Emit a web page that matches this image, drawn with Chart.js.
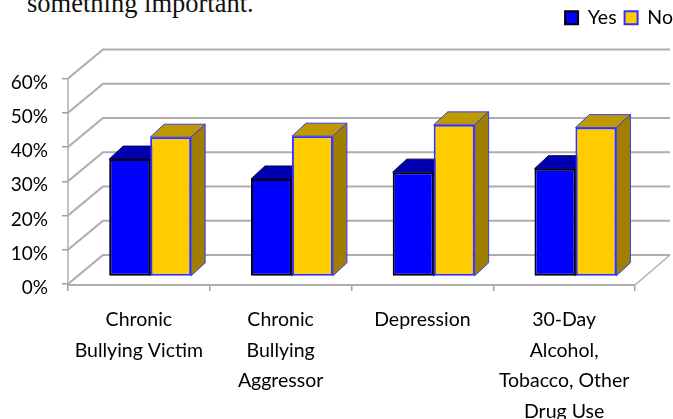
<!DOCTYPE html>
<html>
<head>
<meta charset="utf-8">
<title>Chart</title>
<script src="https://cdn.jsdelivr.net/npm/chart.js@4"></script>
<style>
  html, body { margin: 0; padding: 0; background: #fff; overflow: hidden; }
  #wrap { position: relative; width: 673px; height: 419px; overflow: hidden; }
  #caption {
    position: absolute; left: 27px; top: -12px; white-space: nowrap;
    font: 26.5px "Liberation Serif", serif; color: #111;
  }
  canvas { position: absolute; left: 0; top: 0; }
</style>
</head>
<body>
<div id="wrap">
  <div id="caption">something important.</div>
  <canvas id="chart" width="673" height="419"></canvas>
</div>
<script>
// Data
const categories = [
  ['Chronic', 'Bullying Victim'],
  ['Chronic', 'Bullying', 'Aggressor'],
  ['Depression'],
  ['30-Day', 'Alcohol,', 'Tobacco, Other', 'Drug Use']
];
const yesValues = [34.3, 28.5, 30.5, 31.5];
const noValues = [40.7, 41, 44.3, 43.5];
const yTicks = [0, 10, 20, 30, 40, 50, 60];

// Depth of the box and of the bars, in pixels
const wallDepth = { x: 35, y: 29 };
const barShift = { x: 11.3, y: 7.4 };
const barDepth = { x: 14, y: 13 };

const faceColors = [
  { top: '#0000b0', side: '#00008c', stroke: '#000060' },
  { top: '#bf9900', side: '#a07f00', stroke: '#3a3aff' }
];

const fillFace = (ctx, points, fill, stroke) => {
  ctx.beginPath();
  points.forEach((p, i) => i ? ctx.lineTo(p[0], p[1]) : ctx.moveTo(p[0], p[1]));
  ctx.closePath();
  ctx.fillStyle = fill;
  ctx.fill();
  ctx.strokeStyle = stroke;
  ctx.lineWidth = 1;
  ctx.stroke();
};

// Back wall, side wall and floor of the box
const drawWalls = (chart) => {
  const { ctx, scales, chartArea } = chart;
  const left = chartArea.left;
  const right = chartArea.right;
  ctx.save();
  ctx.strokeStyle = '#aeaeae';
  ctx.lineWidth = 2.2;
  yTicks.forEach(value => {
    const y = scales.y.getPixelForValue(value);
    ctx.beginPath();
    ctx.moveTo(left, y);
    ctx.lineTo(left + wallDepth.x, y - wallDepth.y);
    ctx.lineTo(right + wallDepth.x, y - wallDepth.y);
    ctx.stroke();
  });
  const floorY = scales.y.getPixelForValue(0);
  ctx.beginPath();
  ctx.moveTo(left, floorY + 1);
  ctx.lineTo(right, floorY + 1);
  ctx.stroke();
  ctx.lineWidth = 1.5;
  ctx.beginPath();
  ctx.moveTo(right, floorY + 1);
  ctx.lineTo(right + wallDepth.x, floorY - wallDepth.y);
  ctx.stroke();
  ctx.beginPath();
  ctx.moveTo(left, floorY);
  ctx.lineTo(left, scales.y.getPixelForValue(60));
  ctx.stroke();
  ctx.restore();
};

// Top and side faces of the bars, behind the fronts
const drawBarDepth = (chart) => {
  const { ctx } = chart;
  [0, 1].forEach(index => {
    const colors = faceColors[index];
    chart.getDatasetMeta(index).data.forEach(bar => {
      const x0 = bar.x - bar.width / 2 + barShift.x;
      const x1 = bar.x + bar.width / 2 + barShift.x;
      const top = bar.y - barShift.y;
      const base = bar.base - barShift.y;
      fillFace(ctx, [
        [x0, top], [x1, top],
        [x1 + barDepth.x, top - barDepth.y], [x0 + barDepth.x, top - barDepth.y]
      ], colors.top, colors.stroke);
      fillFace(ctx, [
        [x1, top], [x1 + barDepth.x, top - barDepth.y],
        [x1 + barDepth.x, base - barDepth.y], [x1, base]
      ], colors.side, colors.stroke);
    });
  });
};

const boxPlugin = {
  id: 'box3d',
  afterLayout(chart) {
    // Legend sits tight against the right edge
    chart.legend.left += 8;
    chart.legend.right += 8;
  },
  beforeDatasetsDraw(chart) {
    drawWalls(chart);
    drawBarDepth(chart);
    chart.ctx.save();
    chart.ctx.translate(barShift.x, -barShift.y);
  },
  afterDatasetsDraw(chart) {
    chart.ctx.restore();
  }
};

new Chart(document.getElementById('chart'), {
  type: 'bar',
  data: {
    labels: categories,
    datasets: [
      {
        label: 'Yes',
        data: yesValues,
        backgroundColor: '#0000ff',
        borderColor: '#000000',
        borderWidth: 2,
        borderSkipped: false,
        barPercentage: 1,
        categoryPercentage: 0.578
      },
      {
        label: 'No',
        data: noValues,
        backgroundColor: '#ffcc00',
        borderColor: '#3030ff',
        borderWidth: 2,
        borderSkipped: false,
        barPercentage: 1,
        categoryPercentage: 0.578
      }
    ]
  },
  options: {
    responsive: false,
    animation: false,
    layout: { padding: 0 },
    plugins: {
      tooltip: { enabled: false },
      legend: {
        display: true,
        position: 'top',
        align: 'end',
        labels: {
          boxWidth: 13,
          boxHeight: 13,
          padding: 8,
          color: '#000',
          font: { family: 'Lato', size: 19.5 }
        }
      }
    },
    scales: {
      x: {
        type: 'category',
        position: 'bottom',
        grid: {
          offset: true,
          drawOnChartArea: false,
          tickLength: 7,
          color: '#a0a0a0',
          lineWidth: 1.5
        },
        border: { display: false },
        ticks: {
          autoSkip: false,
          maxRotation: 0,
          minRotation: 0,
          padding: 14,
          color: '#000',
          font: { family: 'Lato', size: 19.5, lineHeight: 1.56 }
        },
        afterFit(scale) { scale.height = 135; }
      },
      y: {
        position: 'left',
        min: 0,
        max: 60,
        afterBuildTicks(scale) { scale.ticks = yTicks.map(value => ({ value })); },
        grid: {
          drawOnChartArea: false,
          tickLength: 6,
          color: '#a0a0a0',
          lineWidth: 1.5
        },
        border: { display: false },
        ticks: {
          padding: 14,
          labelOffset: 4,
          color: '#000',
          font: { family: 'Lato', size: 19 },
          callback: value => value + '%'
        },
        afterFit(scale) { scale.width = 68; }
      },
      // Empty axes that hold the plot away from the top and right edges
      spacerTop: {
        type: 'category',
        axis: 'x',
        position: 'top',
        grid: { display: false },
        border: { display: false },
        ticks: { display: false },
        afterFit(scale) { scale.height = 41; }
      },
      spacerRight: {
        type: 'linear',
        axis: 'y',
        position: 'right',
        grid: { display: false },
        border: { display: false },
        ticks: { display: false },
        afterFit(scale) { scale.width = 38; }
      }
    }
  },
  plugins: [boxPlugin]
});
</script>
</body>
</html>
